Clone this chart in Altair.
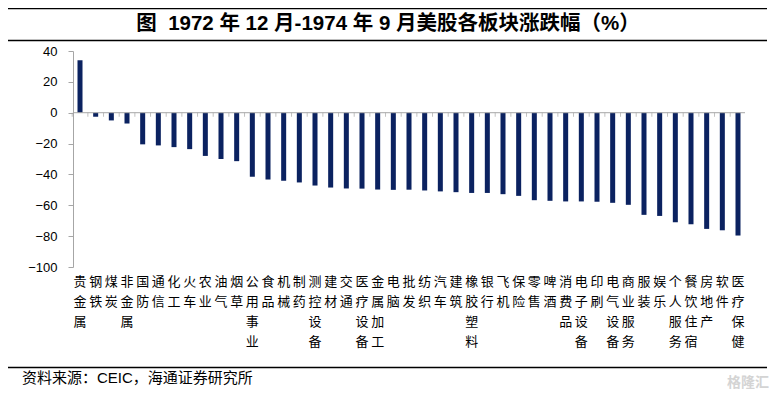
import altair as alt
import pandas as pd

categories = ["贵金属", "钢铁", "煤炭", "非金属", "国防", "通信", "化工", "火车", "农业", "油气",
              "烟草", "公用事业", "食品", "机械", "制药", "测控设备", "建材", "交通", "医疗设备", "金属加工",
              "电脑", "批发", "纺织", "汽车", "建筑", "橡胶塑料", "银行", "飞机", "保险", "零售",
              "啤酒", "消费品", "电子设备", "印刷", "电气设备", "商业服务", "服装", "娱乐", "个人服务", "餐饮住宿",
              "房地产", "软件", "医疗保健"]
values = [34, -2.6, -5, -7, -20.5, -21.2, -22.3, -23.6, -28, -30,
          -31.4, -41.5, -43.3, -44.1, -45.2, -47.2, -48.5, -49.1, -49.2, -49.8,
          -50, -49.9, -50.4, -51, -51.5, -52, -52, -52.8, -53.9, -56.7,
          -57.1, -57.5, -57.5, -57.7, -58.4, -59.7, -66.2, -66.9, -71, -72.3,
          -75.3, -76.2, -79.6]
y_ticks = [-100, -80, -60, -40, -20, 0, 20, 40]
title_text = "图\u00a0\u00a01972 年 12 月-1974 年 9 月美股各板块涨跌幅（%）"
source_text = "资料来源：CEIC，海通证券研究所"
watermark_text = "格隆汇"

df = pd.DataFrame({"cat": categories, "val": values})
one = pd.DataFrame({"a": [0]})

CJK = "Noto Sans CJK SC"
xscale = alt.Scale(paddingInner=0.68, paddingOuter=0.287)
yscale = alt.Scale(domain=[-100, 40], nice=False, zero=False)
xaxis = alt.Axis(title=None, domain=False, ticks=False, labelAngle=0,
                 labelExpr="split(datum.label, '')", labelFont=CJK,
                 labelFontSize=13, labelLineHeight=20, labelPadding=8,
                 labelBaseline="top", labelColor="#000000", labelOverlap=False)
yaxis = alt.Axis(title=None, values=y_ticks, grid=False, domainColor="#a6a6a6",
                 tickColor="#a6a6a6", tickSize=5, labelPadding=11, labelOverlap=False,
                 labelFlush=False, labelBound=False,
                 labelFont="Liberation Sans", labelFontSize=13, labelColor="#000000")

bars = alt.Chart(df).mark_bar(color="#0b2260").encode(
    x=alt.X("cat:N", sort=None, scale=xscale, axis=xaxis),
    y=alt.Y("val:Q", scale=yscale, axis=yaxis),
)

zero = alt.Chart(one).mark_rule(color="#a6a6a6", strokeWidth=1).encode(
    y=alt.Y("a:Q", scale=yscale, axis=yaxis)
)

ticks = alt.Chart(df).mark_tick(color="#a6a6a6", orient="vertical", size=4,
                                thickness=1, xOffset=-5.3, yOffset=2).encode(
    x=alt.X("cat:N", sort=None, scale=xscale, axis=xaxis, bandPosition=0),
    y=alt.Y("z:Q", scale=yscale, axis=yaxis),
).transform_calculate(z="0")

line_top = alt.Chart(one).mark_rule(color="#000000", strokeWidth=1.5).encode(
    x=alt.value(-65), x2=alt.value(694), y=alt.value(-42.5))
line_mid = alt.Chart(one).mark_rule(color="#000000", strokeWidth=1.5).encode(
    x=alt.value(-65), x2=alt.value(694), y=alt.value(-10.5))
line_bot = alt.Chart(one).mark_rule(color="#000000", strokeWidth=1.5).encode(
    x=alt.value(-65), x2=alt.value(694), y=alt.value(316.5))

title = alt.Chart(pd.DataFrame({"t": [title_text]})).mark_text(
    font="Liberation Sans, " + CJK, fontSize=20.5, fontWeight="bold", align="center",
    baseline="middle", color="#000000").encode(
    text="t:N", x=alt.value(315), y=alt.value(-27))

source = alt.Chart(pd.DataFrame({"t": [source_text]})).mark_text(
    font="Liberation Sans, " + CJK, fontSize=15, align="left",
    baseline="middle", color="#000000").encode(
    text="t:N", x=alt.value(-51), y=alt.value(327))

wm = alt.Chart(pd.DataFrame({"t": [watermark_text]})).mark_text(
    font=CJK, fontSize=14, fontWeight="bold", align="left",
    baseline="middle", color="#d4d4d4").encode(
    text="t:N", x=alt.value(654), y=alt.value(332))

chart = alt.layer(bars, zero, ticks, line_top, line_mid, line_bot, title, source, wm).properties(
    width=672, height=216,
    autosize=alt.AutoSizeParams(type="none"),
    padding={"left": 65, "top": 43, "right": 27, "bottom": 124},
).configure_view(stroke=None)

chart.save("out.html", embed_options={"renderer": "svg", "actions": False})
